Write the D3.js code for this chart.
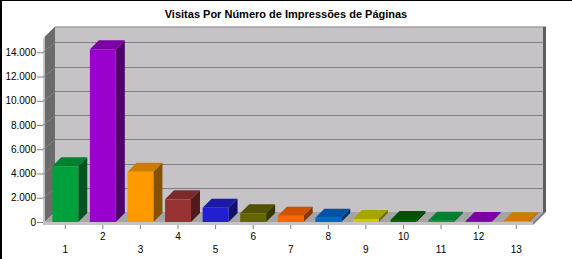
<!DOCTYPE html>
<html>
<head>
<meta charset="utf-8">
<script src="https://cdn.jsdelivr.net/npm/d3@7"></script>
<style>
  body { margin: 0; background: #fff; }
  svg { display: block; font-family: "Liberation Sans", Arial, sans-serif; }
</style>
</head>
<body>
<script>
// dados do grafico
var titulo = "Visitas Por Número de Impressões de Páginas";
var categorias = ["1", "2", "3", "4", "5", "6", "7", "8", "9", "10", "11", "12", "13"];
var visitas = [4600, 14250, 4150, 1870, 1180, 720, 520, 355, 250, 165, 110, 80, 55];
var yTicks = [0, 2000, 4000, 6000, 8000, 10000, 12000, 14000];
var cores = ["#00a03c", "#9900cc", "#ff9900", "#993333", "#2020d0",
             "#666600", "#ff6600", "#0066cc", "#cccc00", "#006600"];

var W = 572, H = 259;
var x0 = 45, x1 = 533, y0 = 222;   // plano da frente
var dx = 10, dy = 10;              // profundidade das paredes
var bd = 9;                        // profundidade das barras

var pt = d3.formatLocale({ decimal: ",", thousands: ".", grouping: [3], currency: ["R$", ""] });
var fmt = pt.format(",d");

var svg = d3.select("body").append("svg")
    .attr("width", W)
    .attr("height", H);

// moldura preta (topo e esquerda)
svg.append("rect").attr("x", 0).attr("y", 0).attr("width", W).attr("height", 1).attr("fill", "#000");
svg.append("rect").attr("x", 0).attr("y", 0).attr("width", 2).attr("height", H).attr("fill", "#000");

var x = d3.scaleBand()
    .domain(categorias)
    .range([x0 + 1.5, x1 + 2]);

var y = d3.scaleLinear()
    .domain([0, 15300])
    .range([y0, y0 - 15300 * 169.7 / 14000]);

var yTop = y.range()[1];

// parede do fundo
svg.append("rect")
    .attr("x", x0 + dx).attr("y", yTop - dy)
    .attr("width", x1 - x0).attr("height", y0 - yTop)
    .attr("fill", "#c6c3c6");
svg.append("line")
    .attr("x1", x0 + dx).attr("x2", x1 + dx)
    .attr("y1", yTop - dy + 0.5).attr("y2", yTop - dy + 0.5)
    .attr("stroke", "#8c8c8c");
// lateral direita
svg.append("rect")
    .attr("x", x1 + dx).attr("y", yTop - dy)
    .attr("width", 3).attr("height", y0 - yTop)
    .attr("fill", "#5e5e5e");

// parede esquerda
svg.append("polygon")
    .attr("points", [[x0, yTop], [x0 + dx, yTop - dy], [x0 + dx, y0 - dy], [x0, y0]].join(" "))
    .attr("fill", "#6b6b6b");
svg.append("polygon")
    .attr("points", [[x0 - 2, yTop + 2], [x0, yTop], [x0, y0 + 3], [x0 - 2, y0 + 3]].join(" "))
    .attr("fill", "#c6c3c6");

// linhas de grade
yTicks.filter(function(d) { return d > 0; }).forEach(function(d) {
    var yy = Math.round(y(d)) + 0.5;
    svg.append("path")
        .attr("d", "M" + (x0 - 2) + "," + yy + "L" + (x0 + dx) + "," + (yy - dy) + "L" + (x1 + dx) + "," + (yy - dy))
        .attr("fill", "none")
        .attr("stroke", "#808080");
});

// piso
svg.append("polygon")
    .attr("points", [[x0, y0], [x0 + dx, y0 - dy], [x1 + dx, y0 - dy], [x1, y0]].join(" "))
    .attr("fill", "#a5a5a5");
svg.append("rect")
    .attr("x", x0 - 2).attr("y", y0)
    .attr("width", x1 - x0 + 2).attr("height", 3)
    .attr("fill", "#c6c3c6");
svg.append("polygon")
    .attr("points", [[x1, y0], [x1 + dx, y0 - dy], [x1 + dx + 3, y0 - dy], [x1 + 3, y0], [x1, y0 + 3]].join(" "))
    .attr("fill", "#7a7a7a");

// barras 3D
var bw = x.bandwidth() * 0.69;
var barras = svg.append("g").selectAll("g")
    .data(visitas)
    .enter()
    .append("g");

function cor(i) { return cores[i % cores.length]; }

barras.append("polygon")   // topo
    .attr("points", function(d, i) {
        var cx = x(categorias[i]) + x.bandwidth() / 2, l = cx - bw / 2, r = cx + bw / 2, t = y(d);
        return [[l, t], [l + bd, t - bd], [r + bd, t - bd], [r, t]].join(" ");
    })
    .attr("fill", function(d, i) { return d3.color(cor(i)).darker(0.6); });

barras.append("polygon")   // lado
    .attr("points", function(d, i) {
        var cx = x(categorias[i]) + x.bandwidth() / 2, r = cx + bw / 2, t = y(d);
        return [[r, t], [r + bd, t - bd], [r + bd, y0 - bd], [r, y0]].join(" ");
    })
    .attr("fill", function(d, i) { return d3.color(cor(i)).darker(1.8); });

barras.append("rect")      // frente
    .attr("x", function(d, i) { return x(categorias[i]) + x.bandwidth() / 2 - bw / 2; })
    .attr("y", function(d) { return y(d); })
    .attr("width", bw)
    .attr("height", function(d) { return y0 - y(d); })
    .attr("fill", function(d, i) { return cor(i); });

// eixo Y
var eixoY = svg.append("g")
    .attr("transform", "translate(" + (x0 - 2) + ",0)")
    .call(d3.axisLeft(y).tickValues(yTicks).tickFormat(fmt).tickSize(6).tickPadding(1));
eixoY.select(".domain").remove();
eixoY.selectAll("line").attr("stroke", "#808080");
eixoY.selectAll("text").style("font-size", "10px").attr("fill", "#000");

// eixo X
var eixoX = svg.append("g")
    .attr("transform", "translate(0," + (y0 + 3) + ")")
    .call(d3.axisBottom(x).tickSize(4));
eixoX.select(".domain").remove();
eixoX.selectAll("line").attr("stroke", "#808080");
eixoX.selectAll("text")
    .style("font-size", "10px")
    .attr("fill", "#000")
    .attr("y", function(d, i) { return i % 2 === 0 ? 21 : 8; });

// titulo
svg.append("text")
    .attr("x", 286)
    .attr("y", 18)
    .attr("text-anchor", "middle")
    .style("font-size", "11px")
    .style("font-weight", "bold")
    .text(titulo);
</script>
</body>
</html>
